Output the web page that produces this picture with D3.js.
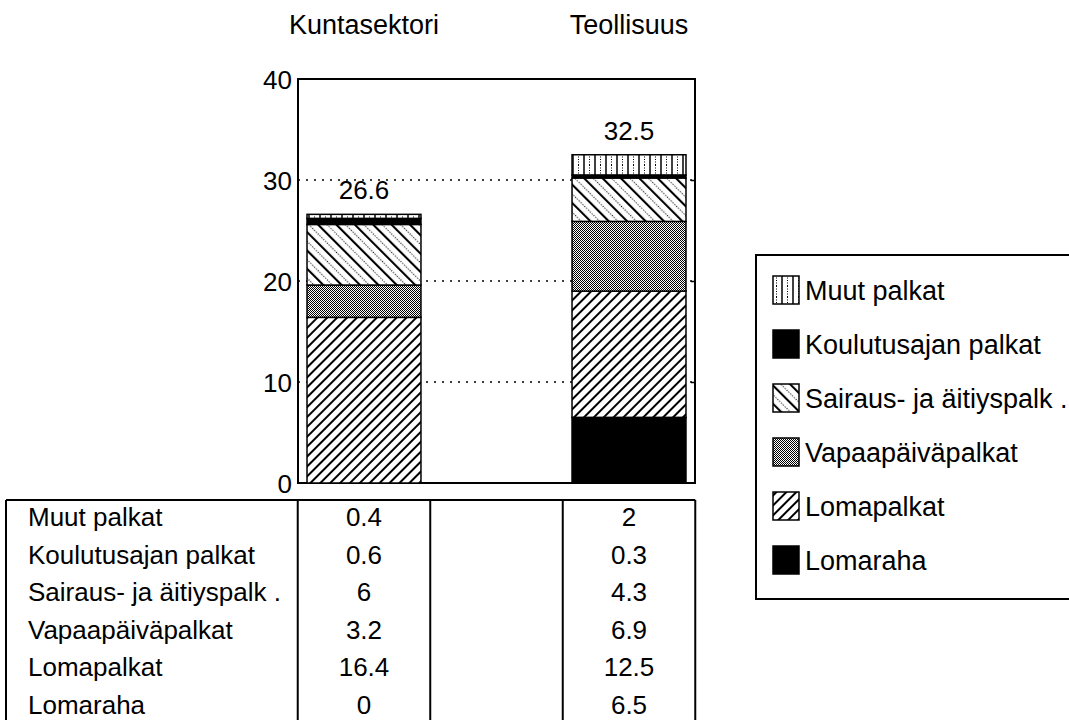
<!DOCTYPE html>
<html>
<head>
<meta charset="utf-8">
<script src="https://cdn.jsdelivr.net/npm/d3@7"></script>
<style>
  body { margin: 0; background: #fff; }
  svg text { font-family: "Liberation Sans", Arial, Helvetica, sans-serif; fill: #000; }
</style>
</head>
<body>
<svg id="chart" width="1069" height="720"></svg>
<script>
// categories and components (stack order bottom -> top)
var categories = ["Kuntasektori", "Teollisuus"];
var components = ["Lomaraha", "Lomapalkat", "Vapaapäiväpalkat", "Sairaus- ja äitiyspalk .", "Koulutusajan palkat", "Muut palkat"];
var kuntasektori = [0, 16.4, 3.2, 6, 0.6, 0.4];
var teollisuus = [6.5, 12.5, 6.9, 4.3, 0.3, 2];
var yTicks = [0, 10, 20, 30, 40];
var fills = ["black", "url(#p-loma)", "url(#p-vapaa)", "url(#p-sairaus)", "black", "url(#p-muut)"];

var series = [kuntasektori, teollisuus];
var rows = categories.map(function(c, i) {
  var r = { cat: c };
  components.forEach(function(k, j) { r[k] = series[i][j]; });
  return r;
});

var svg = d3.select("#chart");
var plotL = 298, plotR = 695, plotT = 79, plotB = 483;

var x = d3.scaleBand().domain(categories).range([plotL, plotR])
  .paddingInner(0.57).paddingOuter(0.034);
var y = d3.scaleLinear().domain([0, 40]).range([plotB, plotT]);
function cx(c) { return x(c) + x.bandwidth() / 2; }

// patterns
var defs = svg.append("defs");
var p = defs.append("pattern").attr("id", "p-loma").attr("patternUnits", "userSpaceOnUse")
  .attr("width", 7).attr("height", 7).attr("patternTransform", "rotate(45)");
p.append("rect").attr("width", 7).attr("height", 7).attr("fill", "#fff");
p.append("line").attr("x1", 1).attr("x2", 1).attr("y1", 0).attr("y2", 7).attr("stroke", "#000").attr("stroke-width", 2);

p = defs.append("pattern").attr("id", "p-sairaus").attr("patternUnits", "userSpaceOnUse")
  .attr("width", 13).attr("height", 13).attr("patternTransform", "rotate(-45)");
p.append("rect").attr("width", 13).attr("height", 13).attr("fill", "#fff");
p.append("line").attr("x1", 1).attr("x2", 1).attr("y1", 0).attr("y2", 13).attr("stroke", "#000").attr("stroke-width", 2.2);
p.append("line").attr("x1", 7.5).attr("x2", 7.5).attr("y1", 0).attr("y2", 13).attr("stroke", "#000")
  .attr("stroke-width", 1.2).attr("stroke-dasharray", "1,1.6");

p = defs.append("pattern").attr("id", "p-vapaa").attr("patternUnits", "userSpaceOnUse")
  .attr("width", 2).attr("height", 2);
p.append("rect").attr("width", 2).attr("height", 2).attr("fill", "#fff");
p.append("rect").attr("width", 1).attr("height", 1).attr("fill", "#000");
p.append("rect").attr("x", 1).attr("y", 1).attr("width", 1).attr("height", 1).attr("fill", "#000");

p = defs.append("pattern").attr("id", "p-muut").attr("patternUnits", "userSpaceOnUse")
  .attr("width", 11).attr("height", 11);
p.append("rect").attr("width", 11).attr("height", 11).attr("fill", "#fff");
p.append("line").attr("x1", 1).attr("x2", 1).attr("y1", 0).attr("y2", 11).attr("stroke", "#000").attr("stroke-width", 1.5);
p.append("line").attr("x1", 6.5).attr("x2", 6.5).attr("y1", 0).attr("y2", 11).attr("stroke", "#000")
  .attr("stroke-width", 1).attr("stroke-dasharray", "1,1.5");

// dotted grid lines
var inner = yTicks.filter(function(t) { return t > 0 && t < 40; });
svg.append("g").selectAll("line").data(inner)
  .enter().append("line")
  .attr("x1", plotL).attr("x2", plotR)
  .attr("y1", function(d) { return y(d); }).attr("y2", function(d) { return y(d); })
  .attr("stroke", "#000").attr("stroke-width", 1.5).attr("stroke-dasharray", "2,6");

// y axis labels
var yAxis = d3.axisLeft(y).tickValues(yTicks).tickSize(0).tickPadding(6);
var ga = svg.append("g").attr("transform", "translate(" + plotL + ",0)").call(yAxis);
ga.select(".domain").remove();
ga.selectAll("text").style("font-size", "26px").attr("dy", "0.36em");

// small inward ticks on the right edge
var yRight = d3.axisLeft(y).tickValues(inner).tickSize(4).tickFormat("");
var gr = svg.append("g").attr("transform", "translate(" + plotR + ",0)").call(yRight);
gr.select(".domain").remove();
gr.selectAll("line").attr("stroke-width", 1.5);

// plot frame
svg.append("rect").attr("x", plotL).attr("y", plotT).attr("width", plotR - plotL).attr("height", plotB - plotT)
  .attr("fill", "none").attr("stroke", "#000").attr("stroke-width", 2);

// stacked bars
var stack = d3.stack().keys(components)(rows);
svg.append("g").selectAll("g").data(stack).enter().append("g")
  .attr("fill", function(d, i) { return fills[i]; })
  .selectAll("rect").data(function(d) { return d.filter(function(s) { return s[1] - s[0] > 0; }); })
  .enter().append("rect")
  .attr("x", function(d) { return x(d.data.cat); })
  .attr("width", x.bandwidth())
  .attr("y", function(d) { return y(d[1]); })
  .attr("height", function(d) { return y(d[0]) - y(d[1]); })
  .attr("stroke", "#000").attr("stroke-width", 1.5);

// totals above bars
function total(d) { return d3.sum(components, function(k) { return d[k]; }); }
svg.append("g").selectAll("text").data(rows).enter().append("text")
  .attr("x", function(d) { return cx(d.cat); })
  .attr("y", function(d) { return y(total(d)) - 15; })
  .attr("text-anchor", "middle").style("font-size", "26px")
  .text(function(d) { return d3.format(".1f")(total(d)); });

// category titles
svg.append("g").selectAll("text").data(categories).enter().append("text")
  .attr("x", cx).attr("y", 34).attr("text-anchor", "middle").style("font-size", "27px")
  .text(function(d) { return d; });

// data table below
var tableTop = 500, rowH = 37.5, firstRow = 517;
var colHalf = x.step() / 4;
var colEdges = [6, cx(categories[0]) - colHalf, cx(categories[0]) + colHalf,
  cx(categories[1]) - colHalf, cx(categories[1]) + colHalf];
var tg = svg.append("g");
tg.append("line").attr("x1", colEdges[0]).attr("x2", colEdges[4]).attr("y1", tableTop).attr("y2", tableTop)
  .attr("stroke", "#000").attr("stroke-width", 2);
tg.selectAll(".vl").data(colEdges).enter().append("line").attr("class", "vl")
  .attr("x1", function(d) { return d; }).attr("x2", function(d) { return d; })
  .attr("y1", tableTop).attr("y2", 725).attr("stroke", "#000").attr("stroke-width", 2);

var tableRows = components.slice().reverse();
tableRows.forEach(function(name, r) {
  var j = components.indexOf(name);
  var ry = firstRow + r * rowH;
  tg.append("text").attr("x", 28).attr("y", ry).attr("dy", "0.36em").style("font-size", "26px").text(name);
  categories.forEach(function(c, i) {
    tg.append("text").attr("x", cx(c)).attr("y", ry).attr("dy", "0.36em")
      .attr("text-anchor", "middle").style("font-size", "26px").text(String(series[i][j]));
  });
});

// legend
var lg = svg.append("g");
lg.append("rect").attr("x", 756).attr("y", 255).attr("width", 330).attr("height", 344)
  .attr("fill", "none").attr("stroke", "#000").attr("stroke-width", 2);
tableRows.forEach(function(name, r) {
  var j = components.indexOf(name);
  var ly = 290 + r * 54;
  lg.append("rect").attr("x", 773).attr("y", ly - 14).attr("width", 26).attr("height", 28)
    .attr("fill", fills[j]).attr("stroke", "#000").attr("stroke-width", 1.5);
  lg.append("text").attr("x", 805).attr("y", ly).attr("dy", "0.36em").style("font-size", "27px").text(name);
});
</script>
</body>
</html>
